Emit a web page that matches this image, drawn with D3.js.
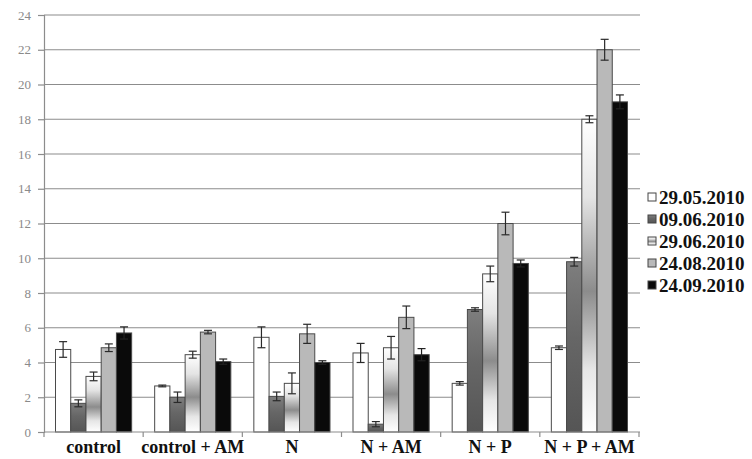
<!DOCTYPE html>
<html>
<head>
<meta charset="utf-8">
<script src="https://cdn.jsdelivr.net/npm/d3@7"></script>
<style>
  html, body { margin: 0; padding: 0; background: #fff; }
  svg { display: block; }
</style>
</head>
<body>
<svg id="chart" width="752" height="459"></svg>
<script>
// Treatments along the x axis
const categories = ["control", "control + AM", "N", "N + AM", "N + P", "N + P + AM"];
// Sampling dates (one bar per date inside each treatment)
const dates = ["29.05.2010", "09.06.2010", "29.06.2010", "24.08.2010", "24.09.2010"];

// Mean values per sampling date, in category order
const values_29_05 = [4.75, 2.65, 5.45, 4.55, 2.8, 4.85];
const values_09_06 = [1.65, 2.0, 2.05, 0.45, 7.05, 9.8];
const values_29_06 = [3.2, 4.45, 2.8, 4.85, 9.1, 18.0];
const values_24_08 = [4.85, 5.75, 5.65, 6.6, 12.0, 22.0];
const values_24_09 = [5.7, 4.05, 4.0, 4.45, 9.7, 19.0];

// Error bar half-lengths per sampling date
const errors_29_05 = [0.45, 0.05, 0.6, 0.55, 0.1, 0.1];
const errors_09_06 = [0.2, 0.3, 0.25, 0.15, 0.1, 0.25];
const errors_29_06 = [0.25, 0.2, 0.6, 0.65, 0.45, 0.2];
const errors_24_08 = [0.22, 0.1, 0.55, 0.65, 0.65, 0.6];
const errors_24_09 = [0.35, 0.15, 0.1, 0.35, 0.2, 0.4];

// Y axis tick values
const yTicks = [0, 2, 4, 6, 8, 10, 12, 14, 16, 18, 20, 22, 24];

const seriesValues = [values_29_05, values_09_06, values_29_06, values_24_08, values_24_09];
const seriesErrors = [errors_29_05, errors_09_06, errors_29_06, errors_24_08, errors_24_09];

const svg = d3.select("#chart");
const plot = { left: 44, right: 639, top: 15, bottom: 432 };

// Fills: plain white, dark gradient, white-grey-white gradient, light grey, black
const defs = svg.append("defs");
function vGrad(id, stops) {
  const g = defs.append("linearGradient").attr("id", id)
    .attr("x1", 0).attr("y1", 0).attr("x2", 0).attr("y2", 1);
  stops.forEach(([o, c]) => g.append("stop").attr("offset", o).attr("stop-color", c));
}
vGrad("gDark", [["0%", "#7e7e7e"], ["45%", "#666666"], ["100%", "#555555"]]);
vGrad("gMid", [["0%", "#ffffff"], ["25%", "#e4e4e4"], ["55%", "#8c8c8c"], ["80%", "#e6e6e6"], ["100%", "#ffffff"]]);
const fills = ["#ffffff", "url(#gDark)", "url(#gMid)", "#b9b9b9", "#0a0a0a"];

const x0 = d3.scaleBand()
  .domain(categories)
  .range([plot.left, plot.right])
  .paddingInner(0.232)
  .paddingOuter(0.116);

const x1 = d3.scaleBand()
  .domain(dates)
  .range([0, x0.bandwidth()]);

const y = d3.scaleLinear().domain([0, 24]).range([plot.bottom, plot.top]);

// Horizontal gridlines
svg.append("g")
  .selectAll("line")
  .data(yTicks.filter(t => t > 0))
  .join("line")
  .attr("x1", plot.left).attr("x2", plot.right + 1)
  .attr("y1", d => y(d)).attr("y2", d => y(d))
  .attr("stroke", "#8c8c8c").attr("stroke-width", 1.2);

// Y axis
const yAxis = svg.append("g")
  .attr("transform", `translate(${plot.left},0)`)
  .call(d3.axisLeft(y).tickValues(yTicks).tickSize(6).tickPadding(7).tickFormat(d3.format("d")));
yAxis.select(".domain").attr("stroke", "#8c8c8c").attr("stroke-width", 1.2);
yAxis.selectAll(".tick line").attr("stroke", "#8c8c8c").attr("stroke-width", 1.2);
yAxis.selectAll(".tick text")
  .attr("fill", "#8a8a8a")
  .style("font-family", "'Liberation Serif', 'DejaVu Serif', serif")
  .style("font-size", "13px");

// Bars
const groups = svg.append("g")
  .selectAll("g")
  .data(categories)
  .join("g")
  .attr("transform", d => `translate(${x0(d)},0)`);

const cells = groups.selectAll("g.cell")
  .data((c, ci) => dates.map((d, si) => ({ date: d, si, v: seriesValues[si][ci], e: seriesErrors[si][ci] })))
  .join("g").attr("class", "cell");

cells.append("rect")
  .attr("x", d => x1(d.date))
  .attr("width", x1.bandwidth())
  .attr("y", d => y(d.v))
  .attr("height", d => y(0) - y(d.v))
  .attr("fill", d => fills[d.si])
  .attr("stroke", "#4a4a4a")
  .attr("stroke-width", 1);

// Error bars
const errCol = d => (d.si === 4 ? "#222" : "#2a2a2a");
cells.append("line")
  .attr("x1", d => x1(d.date) + x1.bandwidth() / 2)
  .attr("x2", d => x1(d.date) + x1.bandwidth() / 2)
  .attr("y1", d => y(d.v + d.e)).attr("y2", d => y(Math.max(0, d.v - d.e)))
  .attr("stroke", errCol).attr("stroke-width", 1.2);
[1, -1].forEach(sign => {
  cells.append("line")
    .attr("x1", d => x1(d.date) + x1.bandwidth() / 2 - 4)
    .attr("x2", d => x1(d.date) + x1.bandwidth() / 2 + 4)
    .attr("y1", d => y(Math.max(0, d.v + sign * d.e)))
    .attr("y2", d => y(Math.max(0, d.v + sign * d.e)))
    .attr("stroke", errCol).attr("stroke-width", 1.2);
});

// X axis baseline with tick marks between treatments
svg.append("line")
  .attr("x1", plot.left).attr("x2", plot.right + 1)
  .attr("y1", y(0)).attr("y2", y(0))
  .attr("stroke", "#8c8c8c").attr("stroke-width", 1.2);
const step = x0.step();
svg.append("g")
  .selectAll("line")
  .data(d3.range(categories.length + 1))
  .join("line")
  .attr("x1", i => plot.left + i * step).attr("x2", i => plot.left + i * step)
  .attr("y1", y(0)).attr("y2", y(0) + 5)
  .attr("stroke", "#8c8c8c").attr("stroke-width", 1.2);

// Category labels
svg.append("g")
  .selectAll("text")
  .data(categories)
  .join("text")
  .attr("x", d => x0(d) + x0.bandwidth() / 2)
  .attr("y", 453)
  .attr("text-anchor", "middle")
  .attr("fill", "#111")
  .style("font-family", "'Liberation Serif', 'DejaVu Serif', serif")
  .style("font-weight", "bold")
  .style("font-size", "18px")
  .text(d => d);

// Legend
const legend = svg.append("g").attr("transform", "translate(648,197)");
const items = legend.selectAll("g")
  .data(dates)
  .join("g")
  .attr("transform", (d, i) => `translate(0,${i * 22})`);
items.append("rect")
  .attr("x", 0).attr("y", -4).attr("width", 8).attr("height", 8)
  .attr("fill", (d, i) => fills[i])
  .attr("stroke", "#444").attr("stroke-width", 1);
items.append("text")
  .attr("x", 11).attr("y", 0).attr("dy", "0.35em")
  .attr("fill", "#111")
  .style("font-family", "'Liberation Serif', 'DejaVu Serif', serif")
  .style("font-weight", "bold")
  .style("font-size", "19px")
  .text(d => d);
</script>
</body>
</html>
